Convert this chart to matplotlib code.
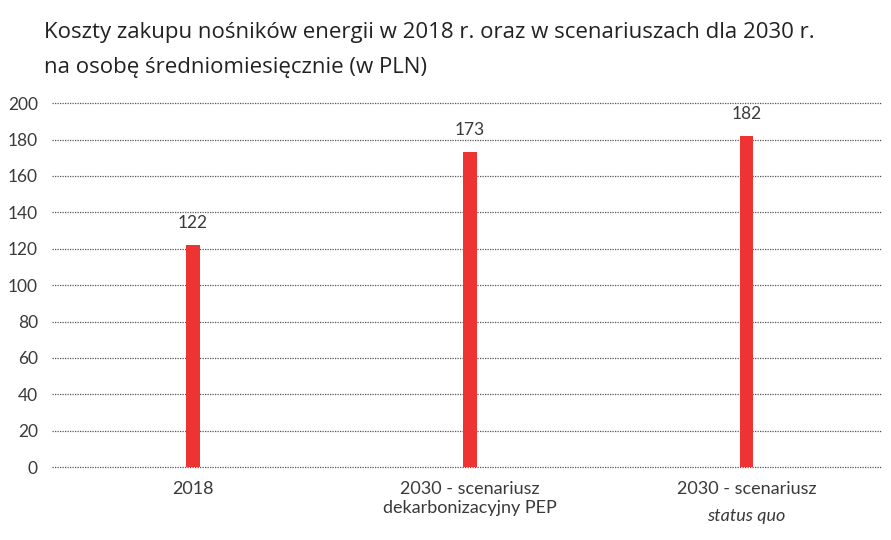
import numpy as np
import matplotlib.pyplot as plt

categories = ["2018", "2030 - scenariusz\ndekarbonizacyjny PEP", "2030 - scenariusz"]
italic_line = ["", "", "status quo"]
values = [122, 173, 182]
yticks = [0, 20, 40, 60, 80, 100, 120, 140, 160, 180, 200]

plt.rcParams['font.family'] = ['Lato', 'DejaVu Sans']

fig = plt.figure(figsize=(8.91, 5.4), dpi=100)
ax = fig.add_axes([0.058, 0.135, 0.932, 0.674])

x = np.arange(len(categories))
ax.bar(x, values, width=0.05, color="#ee3333", zorder=3)
for xi, v in zip(x, values):
    ax.annotate(str(v), (xi, v), xytext=(0, 10), textcoords="offset points",
                ha="center", va="bottom", fontsize=12.5, color="#3a3a3a")

ax.set_xlim(-0.51, 2.49)
ax.set_ylim(0, 200)
ax.set_yticks(yticks)
ax.set_xticks(x)
ax.set_xticklabels(categories, fontsize=13, color="#3a3a3a", linespacing=1.2)
for xi, t in zip(x, italic_line):
    if t:
        ax.text(xi, -0.133, t, transform=ax.get_xaxis_transform(),
                ha="center", va="center", fontsize=13, style="italic", color="#3a3a3a")
ax.tick_params(axis="y", labelsize=12.5, colors="#3a3a3a", length=0, pad=10)
ax.tick_params(axis="x", length=0, pad=10)
ax.grid(axis="y", linestyle=(0, (1, 1)), color="#555555", linewidth=0.9, zorder=0)
for gl in ax.get_ygridlines():
    gl.set_clip_on(False)
for s in ax.spines.values():
    s.set_visible(False)

fig.text(0.049, 0.94, "Koszty zakupu nośników energii w 2018 r. oraz w scenariuszach dla 2030 r.",
         fontsize=16, color="#222222", va="center", family=["Open Sans", "DejaVu Sans"])
fig.text(0.049, 0.875, "na osobę średniomiesięcznie (w PLN)",
         fontsize=16, color="#222222", va="center", family=["Open Sans", "DejaVu Sans"])

fig.savefig("out.png", dpi=100)
